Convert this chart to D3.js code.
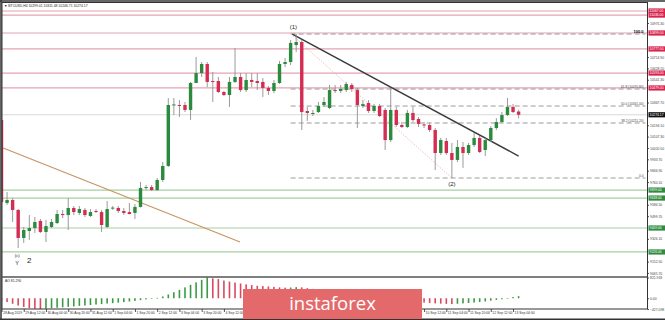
<!DOCTYPE html>
<html><head><meta charset="utf-8">
<script src="https://cdn.jsdelivr.net/npm/d3@7"></script>
<style>
html,body{margin:0;padding:0;background:#fff;}
svg{display:block;font-family:"Liberation Sans",Arial,sans-serif;}
</style></head><body>
<svg id="c" width="665" height="320"></svg>
<script>
// BTCUSD H4 candles, 28 Aug 20:00 .. 13 Sep 08:00 (2019)
const symbol = "BTCUSD,H4";
const opens = [10234,9600,9623,9547,9333,9386,9409,9463,9379,9417,9447,9516,9508,9562,9524,9547,9501,9539,9531,9417,
  9560,9562,9539,9531,9524,9570,9715,9722,9699,9776,9883,10349,10349,10349,10311,10517,10593,10662,10532,10532,
  10448,10425,10525,10563,10463,10540,10532,10525,10479,10456,10517,10662,10677,10807,10830,10303,10280,10295,10349,10326,
  10463,10456,10463,10502,10463,10341,10364,10303,10341,10311,10081,10311,10196,10181,10288,10242,10200,10196,10158,9982,
  10074,9982,9929,10028,9982,10043,10097,10005,10081,10173,10219,10272,10334,10299.01];
const highs = [10272,9684,9638,9554,9417,9508,9493,9478,9470,9478,9547,9547,9638,9577,9577,9562,9554,9554,9547,9615,
  9577,9577,9562,9600,9592,9761,9738,9738,9791,9913,10402,10402,10387,10372,10525,10716,10677,10677,10601,10563,
  10456,10563,10784,10593,10593,10593,10593,10555,10494,10540,10685,10708,10845,10891,10845,10334,10311,10372,10410,10502,
  10502,10502,10525,10517,10479,10387,10387,10356,10356,10326,10479,10334,10219,10311,10334,10257,10219,10211,10173,10097,
  10097,10059,10081,10066,10059,10135,10112,10097,10188,10249,10295,10402,10356,10311.48];
const lows = [9585,9585,9455,9256,9295,9318,9371,9371,9302,9409,9440,9486,9394,9508,9508,9493,9493,9524,9379,9409,
  9547,9524,9508,9512,9478,9566,9699,9692,9692,9761,9875,10272,10257,10295,10234,10517,10563,10486,10372,10440,
  10418,10334,10517,10448,10448,10486,10463,10410,10425,10440,10509,10639,10654,10754,10158,10227,10265,10288,10334,10318,
  10440,10440,10448,10448,10173,10326,10288,10288,10257,10005,10066,10181,10173,10173,10219,10181,10173,10143,9852,9967,
  9967,9791,9913,9868,9967,10028,9982,9959,10066,10158,10211,10265,10288,10246.71];
const closes = [9608,9623,9547,9333,9394,9409,9455,9379,9424,9455,9516,9508,9562,9531,9554,9508,9531,9535,9432,9554,
  9565,9539,9524,9516,9570,9715,9722,9699,9776,9883,10349,10353,10345,10311,10517,10593,10662,10525,10525,10448,
  10425,10525,10563,10463,10540,10525,10517,10479,10456,10517,10662,10677,10823,10830,10295,10288,10288,10341,10372,10463,
  10460,10471,10509,10471,10349,10356,10303,10341,10265,10081,10311,10196,10181,10288,10234,10204,10196,10158,9982,10081,
  9982,9929,10028,9982,10043,10097,9990,10081,10173,10219,10272,10334,10295,10274.17];

// Awesome Oscillator, one value per candle
const aoValues = [-80,-150,-220,-290,-345,-390,-415,-427.098,-412,-395,-378,-360,-342,-325,-305,-288,-270,-250,-232,-212,
  -195,-175,-155,-130,-105,-75,-45,-20,15,70,150,240,330,430,530,630,730,821.918,790,760,
  700,660,620,585,550,520,495,480,465,450,430,420,425,440,430,400,370,340,310,290,
  270,250,230,205,180,150,120,90,60,20,-10,-40,-70,-100,-130,-155,-175,-190,-205,-215,
  -225,-232,-220,-205,-190,-170,-150,-125,-95,-65,-40,-10,45,81.29];

const timeLabels = ["28 Aug 2019","29 Aug 12:00","30 Aug 04:00","30 Aug 20:00","31 Aug 12:00","1 Sep 04:00",
  "1 Sep 20:00","2 Sep 12:00","3 Sep 04:00","3 Sep 20:00","4 Sep 12:00","5 Sep 04:00","5 Sep 20:00","6 Sep 12:00",
  "7 Sep 04:00","7 Sep 20:00","8 Sep 12:00","9 Sep 04:00","9 Sep 20:00","10 Sep 12:00","11 Sep 04:00","11 Sep 20:00",
  "12 Sep 12:00","13 Sep 04:00"];
const labelBars = [0,4,8,12,16,20,24,28,32,36,40,44,48,52,56,60,64,68,72,76,80,84,88,92];

const priceTicks = [10975.30,10888.50,10801.70,10714.90,10628.10,10541.30,10454.50,10367.70,10280.90,10194.10,
  10107.30,10020.50,9933.70,9846.90,9760.10,9673.30,9586.50,9499.70,9412.90,9326.10,9239.30,9152.50,9065.70];

const resistanceLevels = [11067,11036,10899,10777,10593,10479];
const supportLevels = [9699,9638,9409,9226];
const lastPrice = 10274.17;

const fibRatios = [0, 38.2, 50, 61.8, 100];
const fibFrom = {bar: 53, price: 10891};   // wave (1) high
const fibTo = {bar: 81, price: 9791};      // wave (2) low
const mainTrend = [{bar: 52.3, price: 10891}, {bar: 93, price: 9959}];
const oldTrend = [{bar: 0.3, price: 10020}, {bar: 42.9, price: 9302}];

const waveMarks = [
  {text: "(1)", bar: 52.5, price: 10891, dy: -5, size: 6},
  {text: "(2)", bar: 81, price: 9791, dy: 7.5, size: 6}
];

// ---- layout ----
const W = 665, H = 320;
const L = 2, R = 647.5, T = 3, MB = 276.5, AB = 309, B = 319;
const GREEN = "#2a8a3e", RED = "#d42c52";
const FS = 3.4;

const svg = d3.select("#c");
svg.append("rect").attr("width", W).attr("height", H).attr("fill", "#fff");

const x = d3.scaleLinear().domain([0, 93]).range([1.5, 518.6]);
const y = d3.scaleLinear().domain([9042.4, 11128.1]).range([276, 3]);
const ya = d3.scaleLinear().domain([-427.098, 821.918]).range([309, 277.5]);

const badgeBox = {x0: 243, x1: 422, y0: 289, y1: 319};

const defs = svg.append("defs");
defs.append("clipPath").attr("id", "cm").append("rect")
  .attr("x", L).attr("y", T).attr("width", R - L).attr("height", MB - T);
defs.append("clipPath").attr("id", "ca").append("rect")
  .attr("x", L).attr("y", MB).attr("width", R - L).attr("height", AB - MB);

const main = svg.append("g").attr("clip-path", "url(#cm)");

// horizontal levels
main.selectAll("line.res").data(resistanceLevels).join("line")
  .attr("x1", L).attr("x2", R).attr("y1", d => y(d)).attr("y2", d => y(d))
  .attr("stroke", "#e4a3b1").attr("stroke-width", 1.2);
main.selectAll("line.sup").data(supportLevels).join("line")
  .attr("x1", L).attr("x2", R).attr("y1", d => y(d)).attr("y2", d => y(d))
  .attr("stroke", "#a6cf9f").attr("stroke-width", 1.2);
main.append("line").attr("x1", L).attr("x2", R)
  .attr("y1", y(lastPrice)).attr("y2", y(lastPrice))
  .attr("stroke", "#cfcfcf").attr("stroke-width", 0.8);

// fibonacci retracement
const fibPrice = r => fibTo.price + (fibFrom.price - fibTo.price) * r / 100;
const fibG = main.append("g");
fibG.selectAll("line").data(fibRatios).join("line")
  .attr("x1", x(52)).attr("x2", R - 2)
  .attr("y1", d => y(fibPrice(d))).attr("y2", d => y(fibPrice(d)))
  .attr("stroke", "#9b9b9b").attr("stroke-width", 1).attr("stroke-dasharray", "5,3");
fibG.selectAll("text").data(fibRatios).join("text")
  .attr("x", R - 4).attr("y", d => y(fibPrice(d)) - 1)
  .attr("text-anchor", "end").attr("font-size", d => d === 100 ? 4 : 3.2)
  .attr("font-weight", d => d === 100 ? "bold" : "normal")
  .attr("fill", d => d === 100 ? "#000" : "#444")
  .text(d => d === 0 ? "0.0" : d === 100 ? "100.0" : d.toFixed(1) + " (" + fibPrice(d).toFixed(2) + ")");

// dotted guide from wave (1) to wave (2)
main.append("line")
  .attr("x1", x(fibFrom.bar) - 3).attr("y1", y(fibFrom.price) + 2)
  .attr("x2", x(fibTo.bar)).attr("y2", y(fibTo.price))
  .attr("stroke", "#e49aa8").attr("stroke-width", 0.8).attr("stroke-dasharray", "1,1.5");

// trend lines
main.append("line")
  .attr("x1", x(oldTrend[0].bar)).attr("y1", y(oldTrend[0].price))
  .attr("x2", x(oldTrend[1].bar)).attr("y2", y(oldTrend[1].price))
  .attr("stroke", "#c99462").attr("stroke-width", 1.2);
main.append("line")
  .attr("x1", x(mainTrend[0].bar)).attr("y1", y(mainTrend[0].price))
  .attr("x2", x(mainTrend[1].bar)).attr("y2", y(mainTrend[1].price))
  .attr("stroke", "#3a3a3a").attr("stroke-width", 1.4);

// candles
const idx = d3.range(opens.length);
const bw = 3.4;
main.selectAll("line.wick").data(idx).join("line")
  .attr("x1", i => x(i)).attr("x2", i => x(i))
  .attr("y1", i => y(highs[i])).attr("y2", i => y(lows[i]))
  .attr("stroke", "#8f8f8f").attr("stroke-width", 0.9);
main.selectAll("rect.body").data(idx).join("rect")
  .attr("x", i => x(i) - bw / 2).attr("width", bw)
  .attr("y", i => y(Math.max(opens[i], closes[i])))
  .attr("height", i => Math.max(1, Math.abs(y(opens[i]) - y(closes[i]))))
  .attr("fill", i => closes[i] >= opens[i] ? GREEN : RED);

// wave labels
main.selectAll("text.wave").data(waveMarks).join("text")
  .attr("x", d => x(d.bar)).attr("y", d => y(d.price) + d.dy)
  .attr("text-anchor", "middle").attr("font-size", d => d.size).attr("fill", "#222")
  .text(d => d.text);
const cx = x(3), cy = y(lows[3]);
main.append("text").attr("x", cx - 1).attr("y", cy + 9).attr("text-anchor", "middle")
  .attr("font-size", 4.2).attr("fill", "#222").text("(c)");
main.append("text").attr("x", cx - 1).attr("y", cy + 16.5).attr("text-anchor", "middle")
  .attr("font-size", 5.5).attr("fill", "#222").text("Y");
main.append("text").attr("x", cx + 11).attr("y", cy + 15).attr("text-anchor", "middle")
  .attr("font-size", 8).attr("fill", "#222").text("2");

// title
svg.append("text").attr("x", 4).attr("y", 7).attr("font-size", FS).attr("fill", "#222")
  .text("\u25BC " + symbol + " " + [opens[93], highs[93], lows[93], closes[93]].map(v => v.toFixed(2)).join(" "));

// Awesome Oscillator
const aoG = svg.append("g").attr("clip-path", "url(#ca)");
aoG.selectAll("rect").data(idx).join("rect")
  .attr("x", i => x(i) - 0.8).attr("width", 1.6)
  .attr("y", i => Math.min(ya(aoValues[i]), ya(0)))
  .attr("height", i => Math.max(0.6, Math.abs(ya(aoValues[i]) - ya(0))))
  .attr("fill", i => (i === 0 || aoValues[i] >= aoValues[i - 1]) ? "#3c9a46" : "#d84a60");
svg.append("text").attr("x", 5).attr("y", 282).attr("font-size", FS).attr("fill", "#222")
  .text("AO " + aoValues[93].toFixed(3));

// price axis
const axisTextStyle = s => s.selectAll("text").attr("font-size", FS).attr("fill", "#444")
  .attr("font-family", "'Liberation Sans', Arial, sans-serif");
const labelYs = resistanceLevels.concat(supportLevels, [lastPrice]).map(y);
const visibleTicks = priceTicks.filter(t => labelYs.every(v => Math.abs(v - y(t)) > 4.5));
svg.append("g").attr("transform", `translate(${R},0)`)
  .call(d3.axisRight(y).tickValues(visibleTicks).tickSize(1.5).tickPadding(1).tickFormat(d3.format(".2f")))
  .call(g => g.select(".domain").remove())
  .call(g => g.selectAll("line").attr("stroke", "#555"))
  .call(axisTextStyle);

// AO axis labels
svg.append("g").attr("transform", `translate(${R},0)`)
  .call(d3.axisRight(ya).tickValues([821.918, 0, -427.098]).tickSize(1.5).tickPadding(1)
    .tickFormat(d => d === 0 ? "0.00" : d3.format(".3f")(d)))
  .call(g => g.select(".domain").remove())
  .call(g => g.selectAll("line").attr("stroke", "#555"))
  .call(axisTextStyle);

// level price tags
function tag(price, bg) {
  const g = svg.append("g").attr("transform", `translate(${R + 1},${y(price)})`);
  g.append("rect").attr("x", 0).attr("y", -2.6).attr("width", W - R - 1).attr("height", 5.2).attr("fill", bg);
  g.append("text").attr("x", 1).attr("y", 1.2).attr("font-size", FS).attr("fill", "#fff")
    .text(price.toFixed(2));
}
resistanceLevels.forEach(p => tag(p, "#d8234d"));
supportLevels.forEach(p => tag(p, "#2f8c3f"));
tag(lastPrice, "#111");

// time axis (labels that fall behind the badge are not drawn)
const shownBars = labelBars.filter(b => x(b) < badgeBox.x0 || x(b) > badgeBox.x1);
svg.append("g").attr("transform", `translate(0,${AB})`)
  .call(d3.axisBottom(x).tickValues(shownBars).tickSize(3).tickPadding(1)
    .tickFormat(d => timeLabels[labelBars.indexOf(d)]))
  .call(g => g.select(".domain").remove())
  .call(g => g.selectAll("line").attr("stroke", "#555"))
  .call(g => g.selectAll("text").attr("text-anchor", "start").attr("dx", 1).attr("dy", 0.9)
    .attr("font-size", FS).attr("fill", "#333"));

// frames
const frame = svg.append("g").attr("fill", "none").attr("stroke", "#333");
frame.append("rect").attr("x", L).attr("y", T - 0.5).attr("width", R - L).attr("height", AB - T + 0.5).attr("stroke-width", 1);
frame.append("line").attr("x1", L).attr("x2", R).attr("y1", MB + 0.5).attr("y2", MB + 0.5).attr("stroke-width", 1.6).attr("stroke", "#555");
frame.append("line").attr("x1", 0).attr("x2", W).attr("y1", 1).attr("y2", 1).attr("stroke-width", 1.5);
frame.append("line").attr("x1", 0).attr("x2", W).attr("y1", B + 0.3).attr("y2", B + 0.3).attr("stroke-width", 1.5);
frame.append("line").attr("x1", 1).attr("x2", 1).attr("y1", 0).attr("y2", H).attr("stroke-width", 1.5);

// brand badge
const badge = svg.append("g");
badge.append("rect").attr("x", badgeBox.x0).attr("y", badgeBox.y0)
  .attr("width", badgeBox.x1 - badgeBox.x0).attr("height", badgeBox.y1 - badgeBox.y0)
  .attr("fill", "#e3696b");
badge.append("text").attr("x", (badgeBox.x0 + badgeBox.x1) / 2).attr("y", 310).attr("text-anchor", "middle")
  .attr("font-family", "'Open Sans', sans-serif").attr("font-size", 18.5).attr("fill", "#fff")
  .text("instaforex");
</script>
</body></html>
